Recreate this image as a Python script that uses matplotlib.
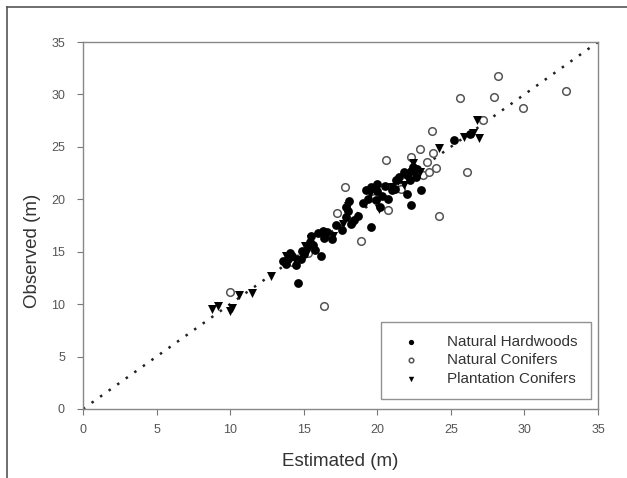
import matplotlib
matplotlib.use("Agg")
import matplotlib.pyplot as plt
from matplotlib.lines import Line2D

plt.rcParams['font.family'] = ['Liberation Sans', 'DejaVu Sans']

# Natural Hardwoods (filled circles)
hw_est = [14.6, 13.8, 13.9, 14.05, 14.5, 14.9, 15.4, 15.5, 15.8, 16.2, 16.0, 16.4,
          16.9, 17.6, 17.9, 17.85, 18.1, 18.4, 18.7, 19.6, 19.2, 19.6, 20.0, 19.9,
          20.2, 21.0, 21.5, 21.8, 22.05, 22.3, 22.6, 22.05, 22.3, 23.0, 25.2, 26.3,
          20.3, 21.2, 13.6, 15.0, 17.2, 18.2, 20.7, 22.0, 22.4, 19.4, 20.0,
          14.2, 14.8, 15.6, 16.6, 18.0, 19.0, 20.5, 21.3, 22.7, 22.2, 16.3]
hw_obs = [12.0, 13.8, 14.3, 14.9, 13.7, 15.1, 15.9, 16.5, 15.2, 14.6, 16.8, 16.3,
          16.2, 17.1, 18.3, 19.3, 19.8, 18.0, 18.4, 17.4, 20.9, 21.2, 21.5, 19.9,
          19.3, 20.9, 22.1, 22.6, 22.4, 22.7, 22.1, 20.5, 19.5, 20.9, 25.7, 26.2,
          20.3, 21.0, 14.1, 14.8, 17.5, 17.6, 20.0, 22.3, 23.1, 20.0, 20.8,
          14.6, 14.3, 15.6, 16.9, 18.9, 19.6, 21.3, 21.8, 22.9, 21.8, 17.0]

# Natural Conifers (open circles)
nc_est = [10.0, 16.4, 17.8, 17.25, 18.9, 20.6, 20.7, 22.3, 22.9, 23.1, 23.7, 23.96,
          23.8, 24.2, 26.1, 25.6, 27.2, 27.9, 28.2, 29.9, 32.8, 14.2, 15.3, 18.3,
          19.8, 23.5, 21.6, 23.4]
nc_obs = [11.2, 9.8, 21.2, 18.7, 16.0, 23.7, 19.0, 24.0, 24.8, 22.3, 26.5, 23.0,
          24.4, 18.4, 22.6, 29.7, 27.6, 29.75, 31.8, 28.7, 30.3, 14.0, 14.9, 17.8,
          20.1, 22.6, 21.0, 23.6]

# Plantation Conifers (filled down-triangles)
pc_est = [8.8, 9.2, 10.0, 10.1, 10.6, 11.5, 12.8, 14.0, 14.4, 15.1, 15.5, 16.6,
          17.0, 17.7, 18.0, 19.5, 20.1, 21.0, 21.4, 22.5, 22.4, 24.2, 25.9, 26.8,
          26.9, 26.5, 13.8, 15.3, 21.8, 22.9]
pc_obs = [9.5, 9.8, 9.3, 9.6, 10.9, 11.05, 12.7, 14.6, 14.2, 15.5, 16.2, 16.6,
          16.5, 17.6, 19.4, 20.5, 19.1, 21.2, 21.7, 22.6, 23.5, 24.9, 25.9, 27.6,
          25.8, 26.3, 14.6, 15.2, 21.4, 22.6]

series_labels = ["Natural Hardwoods", "Natural Conifers", "Plantation Conifers"]
ticks = [0, 5, 10, 15, 20, 25, 30, 35]

fig = plt.figure(figsize=(6.27, 4.78), dpi=100)
ax = fig.add_axes([0.1324, 0.1444, 0.8213, 0.7677])

# 1:1 reference line
ax.plot([0, 35], [0, 35], color="#222222", linestyle=(0, (1, 3.2)), linewidth=1.8,
        zorder=1)

ax.scatter(hw_est, hw_obs, s=40, marker="o", color="black", linewidths=0,
           label=series_labels[0], zorder=3)
ax.scatter(nc_est, nc_obs, s=30, marker="o", facecolors="white",
           edgecolors="#555555", linewidths=1.1, label=series_labels[1], zorder=2)
ax.scatter(pc_est, pc_obs, s=42, marker="v", color="black", linewidths=0,
           label=series_labels[2], zorder=3)

ax.set_xlim(0, 35)
ax.set_ylim(0, 35)
ax.set_xticks(ticks)
ax.set_yticks(ticks)
ax.tick_params(direction="out", length=4, width=0.8, color="#777777",
               labelsize=9, labelcolor="#555555")
ax.tick_params(axis="x", pad=7)
ax.tick_params(axis="y", pad=9)
ax.tick_params(top=False, right=False)
for sp in ax.spines.values():
    sp.set_color("#888888")
    sp.set_linewidth(1.0)

ax.set_xlabel("Estimated (m)", fontsize=13.5, color="#333333", labelpad=12)
ax.set_ylabel("Observed (m)", fontsize=13.5, color="#333333")
ax.yaxis.set_label_coords(-0.082, 0.43)

leg = ax.legend(loc="lower right", bbox_to_anchor=(0.986, 0.027), fontsize=11,
                frameon=True, fancybox=False, edgecolor="#777777",
                borderpad=0.85, labelspacing=0.3, handletextpad=1.3,
                handlelength=2.2, markerscale=0.6, borderaxespad=0)
leg.get_frame().set_linewidth(1.0)
for t in leg.get_texts():
    t.set_color("#333333")

# outer frame lines along the top and left edges
fig.add_artist(Line2D([0.0105, 1.0], [0.986, 0.986], transform=fig.transFigure,
                      color="#555555", linewidth=1.2))
fig.add_artist(Line2D([0.0105, 0.0105], [0.0, 0.986], transform=fig.transFigure,
                      color="#555555", linewidth=1.2))

fig.savefig("out.png", dpi=100)
